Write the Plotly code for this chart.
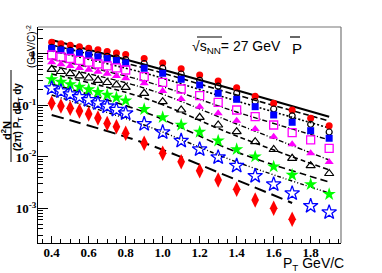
import plotly.graph_objects as go

# ---------------- data ----------------
pt = [0.4, 0.45, 0.5, 0.55, 0.6, 0.65, 0.7, 0.75, 0.8,
      0.9, 1.0, 1.1, 1.2, 1.3, 1.4, 1.5, 1.6, 1.7, 1.8, 1.9]
pt_short = pt[:18]

red_circle = [1.687, 1.578, 1.482, 1.380, 1.290, 1.207, 1.123, 1.046, 0.973,
              0.818, 0.669, 0.516, 0.391, 0.300, 0.2207, 0.1516, 0.1103, 0.0818, 0.0564, 0.0405]
open_circle = [1.349, 1.262, 1.180, 1.103, 1.032, 0.961, 0.898, 0.836, 0.779,
               0.654, 0.530, 0.409, 0.3085, 0.237, 0.1733, 0.1196, 0.0855, 0.0631, 0.0431, 0.0306]
blue_square = [1.290, 1.196, 1.113, 1.032, 0.956, 0.882, 0.814, 0.744, 0.669,
               0.528, 0.422, 0.3227, 0.250, 0.1725, 0.1319, 0.0948, 0.0654, 0.0472, 0.0324, 0.0231]
magenta_open_square = [0.956, 0.882, 0.818, 0.754, 0.696, 0.639, 0.587, 0.537, 0.489,
                       0.3624, 0.2821, 0.2091, 0.1550, 0.1154, 0.0818, 0.0606, 0.0418, 0.0296, 0.0214, 0.01476]
magenta_triangle = [0.690, 0.634, 0.585, 0.537, 0.4934, 0.451, 0.4126, 0.374, 0.3374,
                    0.2698, 0.1912, 0.1337, 0.0948, 0.0706, 0.0507, 0.0350, 0.0248, 0.0177, 0.0118, 0.0080]
open_triangle = [0.5046, 0.457, 0.4164, 0.3775, 0.342, 0.3085, 0.2797, 0.2512, 0.2256,
                 0.1725, 0.1185, 0.0818, 0.0590, 0.0418, 0.0310, 0.0198, 0.01398, 0.00944, 0.00678, 0.00478]
green_star = [0.3227, 0.2884, 0.258, 0.2297, 0.2045, 0.182, 0.1613, 0.1423, 0.1239,
              0.0844, 0.0590, 0.0418, 0.0306, 0.0207, 0.0141, 0.01013, 0.00648, 0.00447, 0.00295, 0.00189]
blue_open_star = [0.2158, 0.1887, 0.1657, 0.1456, 0.1273, 0.1109, 0.0960, 0.0825, 0.0706,
                  0.0437, 0.0302, 0.0207, 0.0141, 0.00987, 0.00678, 0.00428, 0.00295, 0.00197, 0.00112, 0.000844]
red_diamond = [0.1103, 0.0978, 0.0882, 0.0782, 0.0684, 0.0572, 0.0447, 0.0388, 0.0289,
               0.01845, 0.0118, 0.0081, 0.00542, 0.00358, 0.00236, 0.00146, 0.00101, 0.000617]

# fit curves (read at a few nodes)
fit_x = [0.4, 0.9, 1.4, 1.9]
fit_x_short = [0.4, 0.9, 1.4, 1.7]
fit_red = [1.870, 0.6254, 0.1973, 0.0606]
fit_open_circle = [1.495, 0.535, 0.160, 0.050]
fit_blue_square = [1.144, 0.4277, 0.1223, 0.03656]
fit_magenta_square = [0.800, 0.299, 0.0748, 0.0214]
fit_magenta_triangle = [0.585, 0.2187, 0.0437, 0.00874]
fit_open_triangle = [0.409, 0.1398, 0.02557, 0.00559]
fit_green_star = [0.2615, 0.0748, 0.0125, 0.00327]
fit_blue_star = [0.160, 0.0418, 0.0080, 0.0020]
fit_red_diamond = [0.0654, 0.0187, 0.00358, 0.00128]

x_ticks = [0.4, 0.6, 0.8, 1.0, 1.2, 1.4, 1.6, 1.8]
x_tick_text = ["0.4", "0.6", "0.8", "1.0", "1.2", "1.4", "1.6", "1.8"]
y_ticks = [1e-3, 1e-2, 1e-1, 1]
y_tick_text = ["10<sup>-3</sup>", "10<sup>-2</sup>", "10<sup>-1</sup>", "1"]

# ---------------- figure ----------------
fig = go.Figure()

fits = [
    (fit_x, fit_red, "solid", 2.2),
    (fit_x, fit_open_circle, "6px,3px", 1.6),
    (fit_x, fit_blue_square, "2px,2px", 1.6),
    (fit_x, fit_magenta_square, "5px,2px,1px,2px", 1.4),
    (fit_x, fit_magenta_triangle, "5px,2px,1px,2px", 1.4),
    (fit_x, fit_open_triangle, "5px,3px", 1.6),
    (fit_x, fit_green_star, "7px,4px", 1.6),
    (fit_x, fit_blue_star, "4px,2px,1px,2px,1px,2px", 1.4),
    (fit_x_short, fit_red_diamond, "12px,6px", 2.0),
]
for fx, fy, dash, w in fits:
    fig.add_trace(go.Scatter(x=fx, y=fy, mode="lines", line=dict(color="black", width=w, dash=dash, shape="spline"),
                             showlegend=False, hoverinfo="skip"))

series = [
    (pt, red_circle, dict(symbol="circle", size=7, color="#ff0000")),
    (pt, open_circle, dict(symbol="circle-open", size=6, color="black", line=dict(width=1.2))),
    (pt, blue_square, dict(symbol="square", size=7, color="#0000ff")),
    (pt, magenta_open_square, dict(symbol="square-open", size=8, color="#ff00ff", line=dict(width=1.3))),
    (pt, magenta_triangle, dict(symbol="triangle-up", size=8, color="#ff00ff")),
    (pt, open_triangle, dict(symbol="triangle-up-open", size=8, color="black", line=dict(width=1.2))),
    (pt, green_star, dict(symbol="star", size=10, color="#00ff00")),
    (pt, blue_open_star, dict(symbol="star-open", size=11, color="#0000ff", line=dict(width=1.3))),
    (pt_short, red_diamond, dict(symbol="diamond-tall", size=11, color="#ff0000")),
]
for sx, sy, mk in series:
    fig.add_trace(go.Scatter(x=sx, y=sy, mode="markers", marker=mk, showlegend=False))

tick_font = dict(family="Liberation Serif", size=13, color="black", weight="bold")

minor_y = [m * 10 ** e for e in range(-4, 1) for m in range(2, 10)]

fig.update_xaxes(range=[0.326, 1.964], showgrid=False, zeroline=False, automargin=False,
                 showline=True, linecolor="black", linewidth=1.2, mirror=False,
                 ticks="inside", ticklen=7, tickwidth=1, tickcolor="black", ticklabelstandoff=-3,
                 tickvals=x_ticks, ticktext=x_tick_text, tickfont=tick_font,
                 minor=dict(ticks="inside", ticklen=4, dtick=0.05, tick0=0.4, tickcolor="black", showgrid=False))
fig.update_yaxes(type="log", range=[-3.67, 0.524], showgrid=False, zeroline=False, automargin=False,
                 showline=True, linecolor="black", linewidth=1.2, mirror=False,
                 ticks="inside", ticklen=10, tickwidth=1, tickcolor="black", ticklabelstandoff=-2,
                 tickvals=y_ticks, ticktext=y_tick_text, tickfont=tick_font,
                 minor=dict(ticks="inside", ticklen=5, tickvals=minor_y, tickcolor="black", showgrid=False))

# frame top/right
fig.add_shape(type="line", xref="paper", yref="paper", x0=0, x1=1, y0=1, y1=1, line=dict(color="#777777", width=1.2))
fig.add_shape(type="line", xref="paper", yref="paper", x0=1, x1=1, y0=0, y1=1, line=dict(color="#777777", width=1.2))

W0, W1, H0, H1 = 38, 341, 27, 243
def px(xp):
    return (xp - W0) / (W1 - W0)
def py(yp):
    return (H1 - yp) / (H1 - H0)

sans = "Liberation Sans"
fig.add_annotation(xref="paper", yref="paper", x=px(190), y=py(47), xanchor="left", yanchor="middle",
                   text="√s<sub>NN</sub>= 27 GeV", showarrow=False,
                   font=dict(family=sans, size=14, color="black"))
fig.add_shape(type="line", xref="paper", yref="paper", x0=px(197), x1=px(222), y0=py(37), y1=py(37),
              line=dict(color="black", width=1))
fig.add_annotation(xref="paper", yref="paper", x=px(290), y=py(48), xanchor="left", yanchor="middle",
                   text="P", showarrow=False, font=dict(family=sans, size=15, color="black"))
fig.add_shape(type="line", xref="paper", yref="paper", x0=px(290), x1=px(300), y0=py(37), y1=py(37),
              line=dict(color="black", width=1.2))

fig.add_annotation(xref="paper", yref="paper", x=px(346), y=py(264), xanchor="right", yanchor="middle",
                   text="P<sub>T</sub> GeV/C", showarrow=False, font=dict(family=sans, size=14, color="black"))

# y title
fig.add_annotation(xref="paper", yref="paper", x=px(6), y=py(131), textangle=-90, xanchor="center", yanchor="middle",
                   text="d<sup>2</sup>N", showarrow=False, font=dict(family=sans, size=11, color="black", weight="bold"))
fig.add_shape(type="line", xref="paper", yref="paper", x0=px(11), x1=px(11), y0=py(70), y1=py(162),
              line=dict(color="black", width=1))
fig.add_annotation(xref="paper", yref="paper", x=px(18), y=py(117), textangle=-90, xanchor="center", yanchor="middle",
                   text="(2π) P<sub>T</sub> dP<sub>T</sub> dy", showarrow=False,
                   font=dict(family=sans, size=10, color="black", weight="bold"))
fig.add_annotation(xref="paper", yref="paper", x=px(31), y=py(47), textangle=-90, xanchor="center", yanchor="middle",
                   text="(GeV/C)<sup>-2</sup>", showarrow=False, font=dict(family=sans, size=10, color="black"))

fig.update_layout(width=382, height=273, margin=dict(l=W0, r=382 - W1, t=H0, b=273 - H1),
                  paper_bgcolor="white", plot_bgcolor="white", showlegend=False)

fig.write_html("out.html", config={"displayModeBar": False},
               post_script="document.body.style.margin='0';document.body.style.overflow='hidden';")
